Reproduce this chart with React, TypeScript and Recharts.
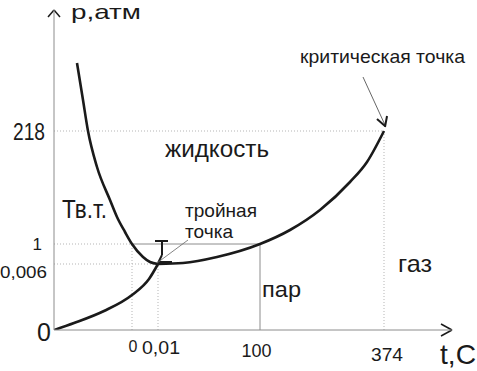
import React from 'react';
import { ComposedChart, Line, XAxis, YAxis, ReferenceLine } from 'recharts';

// Schematic phase diagram of water: positions are diagram units (axes are not to scale)
const xTickPositions = [78, 104, 206, 330];
const xTickLabels = ['0', '0,01', '100', '374'];
const yTickPositions = [0, 66, 86, 199];
const yTickLabels = ['0', '0,006', '1', '218'];

// melting curve (solid / liquid)
const meltingX = [23, 29, 34, 43, 56, 63, 71, 78, 89, 96, 104];
const meltingY = [267, 230, 199, 163, 130, 113, 98, 86, 73, 68, 66];
// sublimation curve (solid / vapour)
const sublimationX = [0, 20, 50, 78, 95, 104];
const sublimationY = [0, 7, 19, 35, 51, 66];
// vaporisation curve (liquid / vapour) up to the critical point
const vaporX = [104, 129, 163, 206, 236, 266, 296, 313, 330];
const vaporY = [66, 67, 73, 86, 100, 120, 148, 168, 199];

const triplePoint = { x: 104, y: 66 };
const criticalPoint = { x: 330, y: 199 };

const toPts = (xs: number[], ys: number[]) => xs.map((x, i) => ({ x, y: ys[i] }));
const meltingData = toPts(meltingX, meltingY);
const sublimationData = toPts(sublimationX, sublimationY);
const vaporData = toPts(vaporX, vaporY);

const FONT = '"Liberation Sans", Arial, sans-serif';
const INK = '#1a1a1a';
const DOT = '#b5b5b5';
const GRAY = '#8c8c8c';

const AXIS_Y_PX = 330;

const xLabelStyle: Record<string, { dx: number; base: number; size: number; len?: number }> = {
  '0': { dx: 1, base: 22, size: 16 },
  '0,01': { dx: 3, base: 24, size: 19, len: 38 },
  '100': { dx: -3.5, base: 27, size: 19, len: 30 },
  '374': { dx: 3, base: 31, size: 19, len: 32 },
};
const yLabelStyle: Record<string, { right: number; base: number; size: number; len?: number }> = {
  '218': { right: 45, base: 9, size: 23, len: 32 },
  '1': { right: 42, base: 6, size: 17 },
  '0,006': { right: 47, base: 14, size: 16, len: 47 },
  '0': { right: 51, base: 11, size: 25 },
};

const XTick = (props: any) => {
  const idx = xTickPositions.indexOf(props.payload.value);
  const label = xTickLabels[idx];
  const s = xLabelStyle[label];
  if (!s) return null;
  return (
    <text
      x={props.x + s.dx}
      y={AXIS_Y_PX + s.base}
      textAnchor="middle"
      fontSize={s.size}
      fontFamily={FONT}
      fill={INK}
      {...(s.len ? { textLength: s.len, lengthAdjust: 'spacingAndGlyphs' } : {})}
    >
      {label}
    </text>
  );
};

const YTick = (props: any) => {
  const idx = yTickPositions.indexOf(props.payload.value);
  const label = yTickLabels[idx];
  const s = yLabelStyle[label];
  if (!s) return null;
  return (
    <text
      x={s.right}
      y={props.y + s.base}
      textAnchor="end"
      fontSize={s.size}
      fontFamily={FONT}
      fill={INK}
      {...(s.len ? { textLength: s.len, lengthAdjust: 'spacingAndGlyphs' } : {})}
    >
      {label}
    </text>
  );
};

const seg = (x1: number, y1: number, x2: number, y2: number) => [
  { x: x1, y: y1 },
  { x: x2, y: y2 },
];

const T = (props: {
  x: number;
  y: number;
  size: number;
  children: string;
  len?: number;
}) => (
  <text
    x={props.x}
    y={props.y}
    fontSize={props.size}
    fontFamily={FONT}
    fill={INK}
    {...(props.len ? { textLength: props.len, lengthAdjust: 'spacingAndGlyphs' } : {})}
  >
    {props.children}
  </text>
);

export default function App() {
  return (
    <div style={{ position: 'absolute', left: 0, top: 0, width: 477, height: 371, background: '#fff' }}>
      <ComposedChart width={477} height={371} margin={{ top: 10, right: 25, left: 0, bottom: 0 }}>
        <XAxis
          type="number"
          dataKey="x"
          domain={[0, 398]}
          ticks={xTickPositions}
          interval={0}
          allowDataOverflow
          height={41}
          tickLine={false}
          tickSize={0}
          axisLine={{ stroke: GRAY, strokeWidth: 1 }}
          tick={<XTick />}
        />
        <YAxis
          type="number"
          dataKey="y"
          domain={[0, 320]}
          ticks={yTickPositions}
          interval={0}
          allowDataOverflow
          width={54}
          tickLine={false}
          tickSize={0}
          axisLine={{ stroke: GRAY, strokeWidth: 1 }}
          tick={<YTick />}
        />

        {/* dotted guide lines */}
        <ReferenceLine segment={seg(0, criticalPoint.y, criticalPoint.x, criticalPoint.y)} stroke={DOT} strokeDasharray="1 2" ifOverflow="visible" />
        <ReferenceLine segment={seg(criticalPoint.x, 0, criticalPoint.x, criticalPoint.y)} stroke={DOT} strokeDasharray="1 2" ifOverflow="visible" />
        <ReferenceLine segment={seg(0, 86, 78, 86)} stroke={DOT} strokeDasharray="1 2" ifOverflow="visible" />
        <ReferenceLine segment={seg(78, 0, 78, 86)} stroke={DOT} strokeDasharray="1 2" ifOverflow="visible" />
        <ReferenceLine segment={seg(0, triplePoint.y, triplePoint.x, triplePoint.y)} stroke={DOT} strokeDasharray="1 2" ifOverflow="visible" />
        <ReferenceLine segment={seg(triplePoint.x, 0, triplePoint.x, triplePoint.y)} stroke={DOT} strokeDasharray="1 2" ifOverflow="visible" />
        {/* solid guide lines at 1 atm / 100 C */}
        <ReferenceLine segment={seg(78, 86, 206, 86)} stroke={GRAY} strokeWidth={1} ifOverflow="visible" />
        <ReferenceLine segment={seg(206, 0, 206, 86)} stroke={GRAY} strokeWidth={1} ifOverflow="visible" />

        {/* phase boundary curves */}
        <Line data={meltingData} dataKey="y" type="monotone" stroke={INK} strokeWidth={2.6} dot={false} isAnimationActive={false} />
        <Line data={sublimationData} dataKey="y" type="monotone" stroke={INK} strokeWidth={2.6} dot={false} isAnimationActive={false} />
        <Line data={vaporData} dataKey="y" type="monotone" stroke={INK} strokeWidth={2.6} dot={false} isAnimationActive={false} />

        {/* axis arrowheads */}
        <ReferenceLine segment={seg(-6, 313, 0, 320)} stroke={INK} strokeWidth={1.5} ifOverflow="visible" />
        <ReferenceLine segment={seg(0, 320, 6, 313)} stroke={INK} strokeWidth={1.5} ifOverflow="visible" />
        <ReferenceLine segment={seg(387, 6, 398, 0)} stroke={INK} strokeWidth={1.5} ifOverflow="visible" />
        <ReferenceLine segment={seg(398, 0, 387, -6)} stroke={INK} strokeWidth={1.5} ifOverflow="visible" />

        {/* triple point marker and pointer */}
        <ReferenceLine segment={seg(101, 89, 114, 89)} stroke={INK} strokeWidth={2} ifOverflow="visible" />
        <ReferenceLine segment={seg(108, 89, 108, 75)} stroke={INK} strokeWidth={2} ifOverflow="visible" />
        <ReferenceLine segment={seg(108, 75, 104, 67)} stroke={INK} strokeWidth={2} ifOverflow="visible" />
        <ReferenceLine segment={seg(104, 67.5, 118, 67.5)} stroke={INK} strokeWidth={3} ifOverflow="visible" />
        <ReferenceLine segment={seg(103, 67, 134, 90)} stroke="#666" strokeWidth={0.8} ifOverflow="visible" />

        {/* critical point pointer */}
        <ReferenceLine segment={seg(309, 253, 331, 205)} stroke="#555" strokeWidth={0.9} ifOverflow="visible" />
        <ReferenceLine segment={seg(323, 211, 331, 204)} stroke={INK} strokeWidth={2} ifOverflow="visible" />
        <ReferenceLine segment={seg(333, 214, 331, 203)} stroke={INK} strokeWidth={2} ifOverflow="visible" />

        {/* annotations */}
        <T x={71} y={19} size={21} len={70}>p,атм</T>
        <T x={440} y={364} size={28} len={36}>t,C</T>
        <T x={300} y={63} size={19} len={165}>критическая точка</T>
        <T x={165} y={157} size={24} len={104}>жидкость</T>
        <T x={62} y={218} size={25} len={45}>Тв.т.</T>
        <T x={185} y={217} size={19} len={72}>тройная</T>
        <T x={185} y={238} size={19} len={48}>точка</T>
        <T x={262} y={297} size={22} len={39}>пар</T>
        <T x={398} y={272} size={24} len={34}>газ</T>
      </ComposedChart>
    </div>
  );
}
